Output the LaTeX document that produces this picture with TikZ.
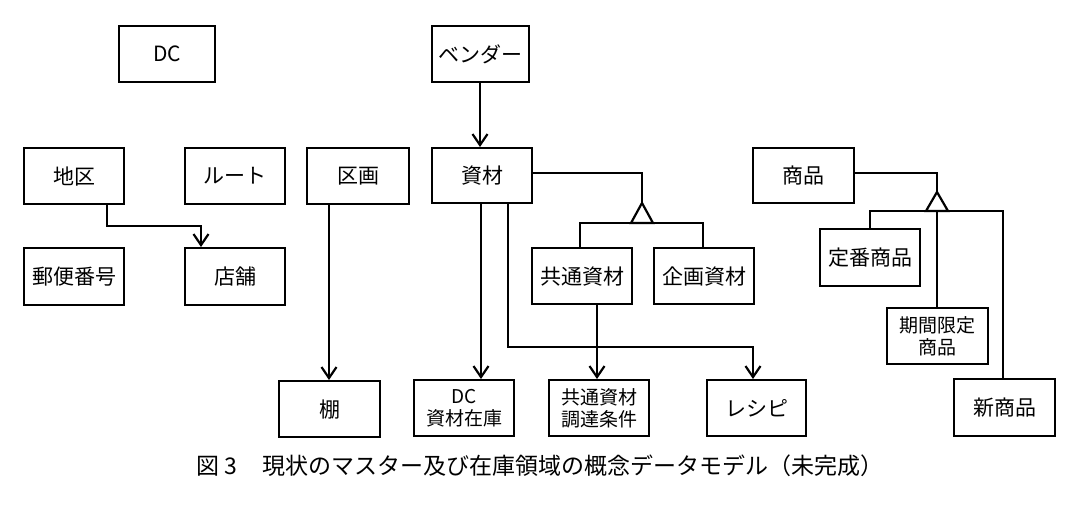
\documentclass[tikz,border=0pt]{standalone}
\usepackage{fontspec}
\setmainfont{Noto Sans CJK JP}
\usetikzlibrary{arrows.meta}
\tikzset{
  box/.style={draw, line width=2.2pt, inner sep=0pt, anchor=north west, align=center, font=\fontsize{21}{22}\selectfont},
  two/.style={font=\fontsize{19}{22}\selectfont},
  conn/.style={line width=2.2pt},
  arr/.style={conn, -{Straight Barb[length=11pt,width=15pt,line width=2.2pt]}},
  tri/.style={draw, line width=2.2pt, fill=white}
}
\newcommand{\bx}[7][]{\node[box, #1, minimum width=#5-#3, minimum height=#6-#4] (#2) at (#3,#4) {#7};}
\begin{document}
\begin{tikzpicture}[x=1pt,y=-1pt]
\useasboundingbox (0,0) rectangle (1074,516);
\bx{dc}{118}{25}{214}{81}{DC}
\bx{vendor}{431}{25}{528}{81}{ベンダー}
\bx{chiku}{23}{147}{123}{203}{地区}
\bx{route}{184}{147}{284}{203}{ルート}
\bx{kukaku}{306}{147}{408}{203}{区画}
\bx{shizai}{431}{147}{531}{202}{資材}
\bx{shohin}{752}{147}{853}{202}{商品}
\bx{yubin}{23}{247}{123}{304}{郵便番号}
\bx{tenpo}{184}{247}{284}{304}{店舗}
\bx{kyotsu}{531}{247}{631}{303}{共通資材}
\bx{kikaku}{653}{247}{753}{303}{企画資材}
\bx{teiban}{819}{228}{919}{285}{定番商品}
\bx[two]{kikan}{886}{307}{987}{363}{期間限定\\商品}
\bx{shin}{953}{378}{1054}{435}{新商品}
\bx{tana}{278}{380}{379}{436}{棚}
\bx[two]{dczaiko}{413}{379}{513}{435}{DC\\資材在庫}
\bx[two]{chotatsu}{548}{379}{648}{435}{共通資材\\調達条件}
\bx{recipe}{706}{379}{805}{435}{レシピ}
% connectors
\draw[arr] (vendor.south -| 480,0) -- (shizai.north -| 480,0);
\draw[arr] (chiku.south -| 107,0) |- (201,226) -- (tenpo.north -| 201,0);
\draw[arr] (kukaku.south -| 329,0) -- (tana.north -| 329,0);
\draw[arr] (shizai.south -| 481,0) -- (dczaiko.north -| 481,0);
\draw[arr] (shizai.south -| 508,0) |- (753,347) -- (recipe.north -| 753,0);
\draw[arr] (kyotsu.south -| 597,0) -- (chotatsu.north -| 597,0);
% generalization shizai
\coordinate (t1) at (642,203);
\draw[conn] (shizai.east |- 0,173) -| (t1);
\draw[conn] (kyotsu.north -| 580,0) |- (703,223) -- (kikaku.north -| 703,0);
\draw[tri] (t1) -- (631,223) -- (653,223) -- cycle;
% generalization shohin
\coordinate (t2) at (937,192);
\draw[conn] (shohin.east |- 0,173) -| (t2);
\draw[conn] (teiban.north -| 870,0) |- (1003,211) -- (shin.north -| 1003,0);
\draw[conn] (937,211) -- (kikan.north -| 937,0);
\draw[tri] (t2) -- (926,211) -- (948,211) -- cycle;
\node[font=\fontsize{23}{25}\selectfont] (cap) at (540,466) {図 3\hspace{1.1em}現状のマスター及び在庫領域の概念データモデル（未完成）};
\end{tikzpicture}
\end{document}
